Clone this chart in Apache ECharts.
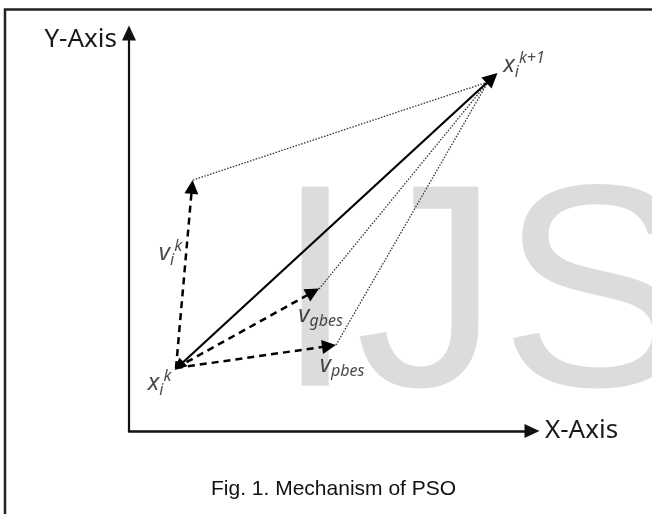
<!DOCTYPE html>
<html>
<head>
<meta charset="utf-8">
<script src="https://cdn.jsdelivr.net/npm/echarts@6/dist/echarts.min.js"></script>
<style>
  html, body { margin: 0; padding: 0; background: #fff; }
  #main { width: 652px; height: 514px; }
</style>
</head>
<body>
<div id="main"></div>
<script>
// points in axis units (origin at the axes corner, 1 unit ~ 1px)
const origin = [47, 63];          // x_i^k
const solidFrom = [50, 65];       // small arrow head at x_i^k
const nextPos = [363, 353];       // x_i^{k+1} arrow head
const velTip = [63, 244];         // v_i^k arrow head
const gbestTip = [184, 139];      // v_gbest arrow head
const pbestTip = [200, 85];       // v_pbest arrow head
const dottedFrom = [[64, 251], [190, 142], [207, 86]];
const dottedTo = [359, 349];

const labelPos = [[30.5, 48], [395, 366], [41.5, 178], [191.5, 116.3], [213, 66.3]];
const labelText = [
  '{m|x}{s|i}{p|k}',
  '{m|x}{s|i}{p|k+1}',
  '{m|v}{s|i}{p|k}',
  '{m|v}{s|gbes}',
  '{m|v}{s|pbes}'
];

const chart = echarts.init(document.getElementById('main'));

const option = {
  animation: false,
  title: {
    text: 'Fig. 1. Mechanism of PSO',
    left: 206,
    top: 474,
    textStyle: { fontFamily: 'Liberation Sans', fontSize: 21, fontWeight: 'normal', color: '#111' }
  },
  graphic: [
    {
      type: 'text', z: -10, silent: true,
      style: {
        text: 'IJS', x: 275, y: 306,
        font: '289px "Liberation Sans"', fill: '#dcdcdc',
        verticalAlign: 'middle'
      }
    },
    {
      type: 'polyline', z: 10, silent: true,
      shape: { points: [[5, 514], [5, 9.5], [652, 9.5]] },
      style: { stroke: '#222', lineWidth: 2.5, fill: null }
    }
  ],
  grid: { left: 129, right: 120, top: 33, bottom: 83 },
  xAxis: {
    type: 'value', min: 0, max: 403,
    name: 'X-Axis', nameLocation: 'end', nameGap: 13,
    nameTextStyle: { fontFamily: 'Noto Sans', fontSize: 26, color: '#1a1a1a', verticalAlign: 'middle', padding: [0, 0, 12, 0] },
    axisLine: { show: true, symbol: ['none', 'triangle'], symbolSize: [14, 15], lineStyle: { color: '#111', width: 2.5 } },
    axisTick: { show: false }, axisLabel: { show: false }, splitLine: { show: false }
  },
  yAxis: {
    type: 'value', min: 0, max: 398,
    name: 'Y-Axis', nameLocation: 'end', nameGap: -6.5,
    nameTextStyle: { fontFamily: 'Noto Sans', fontSize: 26, color: '#1a1a1a', align: 'right', verticalAlign: 'middle', padding: [0, 12, 0, 0] },
    axisLine: { show: true, symbol: ['none', 'triangle'], symbolSize: [14, 15], lineStyle: { color: '#111', width: 2.2 } },
    axisTick: { show: false }, axisLabel: { show: false }, splitLine: { show: false }
  },
  series: [
    {
      type: 'lines', coordinateSystem: 'cartesian2d', clip: false,
      symbol: ['none', 'none'],
      lineStyle: { color: '#333', width: 1.3, type: [1.5, 1.5], opacity: 1 },
      data: dottedFrom.map(p => ({ coords: [p, dottedTo] }))
    },
    {
      type: 'lines', coordinateSystem: 'cartesian2d', clip: false,
      symbol: ['triangle', 'triangle'], symbolSize: [12, 15],
      lineStyle: { color: '#000', width: 2.2, type: 'solid', opacity: 1 },
      data: [{ coords: [solidFrom, nextPos] }]
    },
    {
      type: 'lines', coordinateSystem: 'cartesian2d', clip: false,
      symbol: ['none', 'triangle'], symbolSize: 14,
      lineStyle: { color: '#000', width: 2.5, type: [7, 5], opacity: 1 },
      data: [velTip, gbestTip, pbestTip].map(p => ({ coords: [origin, p] }))
    },
    {
      type: 'scatter', symbolSize: 1, clip: false,
      itemStyle: { color: 'rgba(0,0,0,0)' },
      label: {
        show: true, position: 'inside', align: 'center', verticalAlign: 'middle',
        color: '#1a1a1a',
        formatter: p => labelText[p.dataIndex],
        rich: {
          m: { fontFamily: 'Noto Sans', fontStyle: 'italic', fontSize: 24, lineHeight: 30, color: '#1a1a1a', verticalAlign: 'middle' },
          s: { fontFamily: 'Noto Sans', fontStyle: 'italic', fontSize: 16, lineHeight: 15, color: '#1a1a1a', verticalAlign: 'bottom' },
          p: { fontFamily: 'Noto Sans', fontStyle: 'italic', fontSize: 16, lineHeight: 15, color: '#1a1a1a', verticalAlign: 'top' }
        }
      },
      data: labelPos
    }
  ]
};

chart.setOption(option);
</script>
</body>
</html>
